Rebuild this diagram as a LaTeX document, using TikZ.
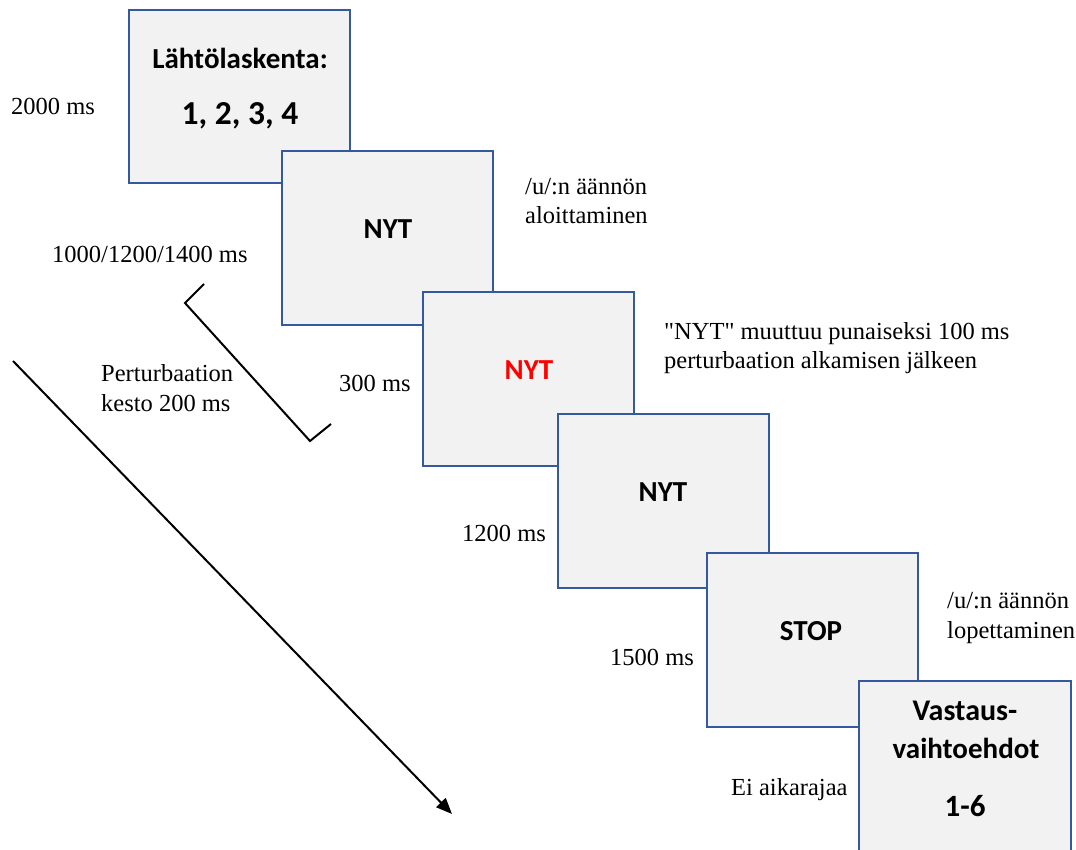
\documentclass[tikz,border=0pt]{standalone}
\usepackage{fontspec}
\setmainfont{Liberation Serif}[Ligatures=TeXOff]
\newfontfamily\boxfont{Carlito}
\usetikzlibrary{arrows.meta}
\definecolor{boxblue}{RGB}{52,89,158}
\definecolor{boxfill}{RGB}{242,242,242}
\definecolor{nytred}{RGB}{255,0,0}
\begin{document}
\begin{tikzpicture}[x=1pt,y=-1pt,
  stim/.style={draw=boxblue, fill=boxfill, line width=2.5pt, minimum width=211pt, minimum height=174pt, inner sep=0pt, outer sep=0pt},
  boxtxt/.style={font=\boxfont\bfseries\fontsize{29}{35}\selectfont, inner sep=0pt},
  lbl/.style={font=\fontsize{24.5}{29.5}\selectfont, anchor=west, align=left, inner sep=0pt},
  blackline/.style={line width=2pt, black}
]
\useasboundingbox (0,0) rectangle (1076,850);
\clip (0,0) rectangle (1076,850);
\fill[white] (0,0) rectangle (1076,850);

% boxes
\node[stim, minimum width=221pt, minimum height=173pt] (b1) at (239.5,96.5) {};
\node[boxtxt, font=\boxfont\bfseries\fontsize{29}{34}\selectfont] (t1a) at (240,58) {Lähtölaskenta:};
\node[boxtxt, font=\boxfont\bfseries\fontsize{33.5}{40}\selectfont] (t1b) at (240,116) {1, 2, 3, 4};

\node[stim] (b2) at (387.5,238) {};
\node[boxtxt] (t2) at (388,229) {NYT};

\node[stim] (b3) at (528.5,379) {};
\node[boxtxt, text=nytred] (t3) at (529,370) {NYT};

\node[stim] (b4) at (663.5,501) {};
\node[boxtxt] (t4) at (663,492) {NYT};

\node[stim] (b5) at (812.5,640) {};
\node[boxtxt] (t5) at (811,631) {STOP};

\node[stim, minimum width=212pt, minimum height=260pt] (b6) at (965,811) {};
\node[boxtxt, font=\boxfont\bfseries\fontsize{30}{36}\selectfont] (t6a) at (965,711) {Vastaus-};
\node[boxtxt] (t6b) at (966,748) {vaihtoehdot};
\node[boxtxt, font=\boxfont\bfseries\fontsize{31}{37}\selectfont] (t6c) at (965,806) {1-6};

% labels
\node[lbl] (l1) at (11,106) {2000 ms};
\node[lbl] (l2) at (525,201) {/u/:n äännön\\aloittaminen};
\node[lbl] (l3) at (52,254) {1000/1200/1400 ms};
\node[lbl] (l4) at (101,388) {Perturbaation\\kesto 200 ms};
\node[lbl] (l5) at (339,383) {300 ms};
\node[lbl] (l6) at (664,348) {"NYT" muuttuu punaiseksi 100 ms\\perturbaation alkamisen jälkeen};
\node[lbl] (l7) at (462,533) {1200 ms};
\node[lbl] (l8) at (947,618) {/u/:n äännön\\lopettaminen};
\node[lbl] (l9) at (610,657) {1500 ms};
\node[lbl] (l10) at (731,790) {Ei aikarajaa};

% bracket
\coordinate (br1) at (204,284);
\coordinate (br2) at (185,303);
\coordinate (br3) at (310,441);
\coordinate (br4) at (331,424);
\draw[blackline, line join=miter] (br1) -- (br2) -- (br3) -- (br4);

% time arrow
\coordinate (as) at (13,361);
\coordinate (ae) at (452,814);
\draw[blackline, -{Triangle[length=16pt,width=13pt]}] (as) -- (ae);
\end{tikzpicture}
\end{document}
